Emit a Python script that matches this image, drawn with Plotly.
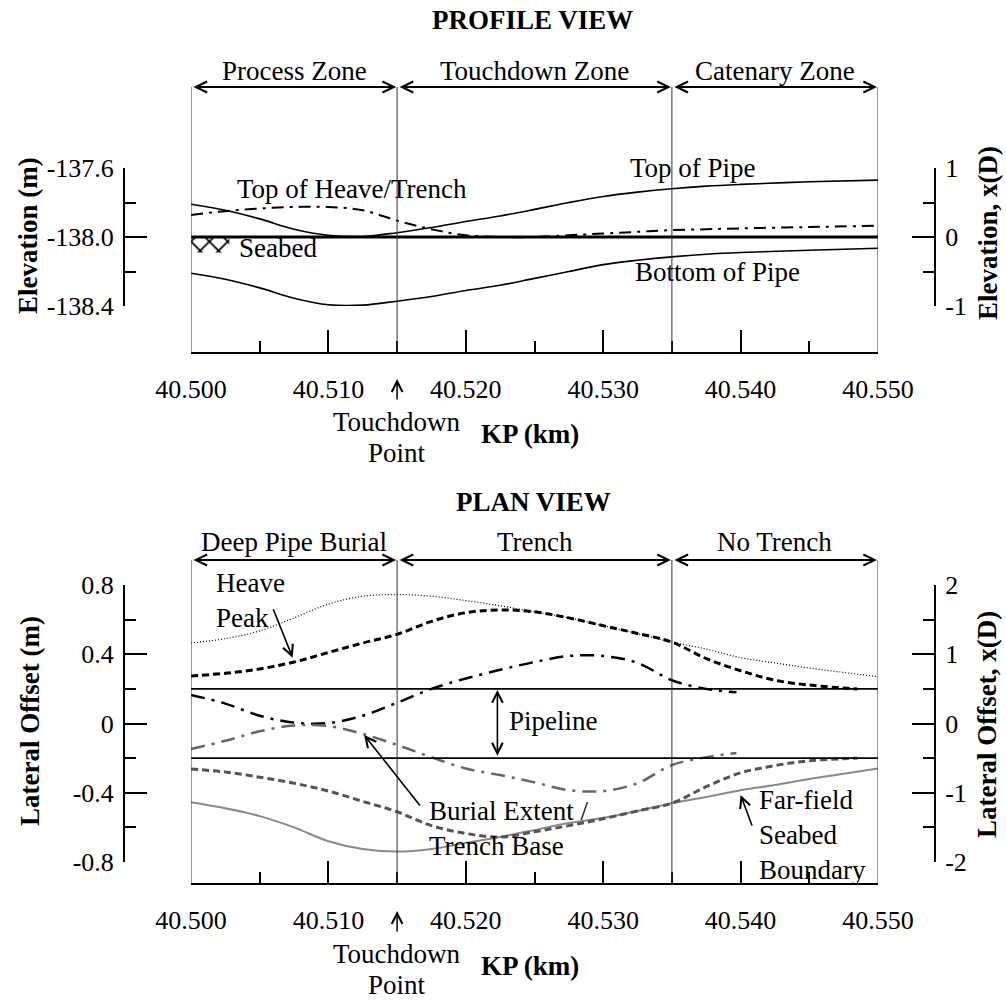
import plotly.graph_objects as go

# ---------------------------------------------------------------- data
FONT = "Liberation Serif"
W, H = 1006, 1003

kp_ticks = [40.500, 40.510, 40.520, 40.530, 40.540, 40.550]
kp_labels = ["40.500", "40.510", "40.520", "40.530", "40.540", "40.550"]
kp_minor = [40.505, 40.515, 40.525, 40.535, 40.545]

# profile view (elevation, m)
kp_profile = [40.500, 40.5025, 40.505, 40.5075, 40.510, 40.5125, 40.515, 40.5175,
              40.520, 40.5225, 40.525, 40.5275, 40.530, 40.5325, 40.535, 40.5375,
              40.540, 40.545, 40.550]
top_of_pipe = [-137.81, -137.845, -137.895, -137.955, -137.99, -137.997, -137.975,
               -137.945, -137.91, -137.878, -137.84, -137.80, -137.765, -137.74,
               -137.72, -137.705, -137.695, -137.68, -137.67]
bottom_of_pipe = [-138.21, -138.245, -138.295, -138.355, -138.393, -138.395, -138.372,
                  -138.345, -138.31, -138.28, -138.24, -138.20, -138.16, -138.135,
                  -138.115, -138.10, -138.09, -138.077, -138.065]
top_of_heave = [-137.872, -137.85, -137.835, -137.826, -137.826, -137.845, -137.905,
                -137.955, -137.99, -138.0, -138.0, -137.99, -137.98, -137.97,
                -137.96, -137.955, -137.95, -137.942, -137.935]
seabed_kp = [40.500, 40.550]
seabed_elev = [-138.0, -138.0]
hatch_kp = [40.500, 40.5028, 40.5028, 40.500]
hatch_elev = [-138.0, -138.0, -138.09, -138.09]

elev_ticks = [-138.4, -138.0, -137.6]
elev_labels = ["-138.4", "-138.0", "-137.6"]
elev_minor = [-138.2, -137.8]
elev_d_ticks = [-1, 0, 1]
elev_d_labels = ["-1", "0", "1"]
elev_d_minor = [-0.5, 0.5]

profile_zones = [(40.500, 40.515, "Process Zone"),
                 (40.515, 40.535, "Touchdown Zone"),
                 (40.535, 40.550, "Catenary Zone")]

# plan view (lateral offset, m)
kp_plan = [40.500, 40.5025, 40.505, 40.5075, 40.510, 40.5125, 40.515, 40.5175,
           40.520, 40.5225, 40.525, 40.5275, 40.530, 40.5325, 40.535, 40.5375,
           40.540, 40.5425, 40.545, 40.5475, 40.550]
heave_outer = [0.465, 0.49, 0.535, 0.61, 0.69, 0.735, 0.745, 0.735, 0.71, 0.68, 0.645,
               0.61, 0.565, 0.52, 0.47, 0.43, 0.38, 0.35, 0.32, 0.295, 0.27]
far_field = [-0.455, -0.49, -0.535, -0.60, -0.68, -0.725, -0.74, -0.725, -0.69, -0.655,
             -0.615, -0.575, -0.545, -0.505, -0.46, -0.425, -0.385, -0.355, -0.32,
             -0.29, -0.26]

kp_peak = [40.500, 40.5025, 40.505, 40.5075, 40.510, 40.5125, 40.515, 40.5175, 40.520,
           40.5225, 40.525, 40.5275, 40.530, 40.5325, 40.535, 40.5375, 40.540, 40.5425,
           40.545, 40.5475, 40.5485]
heave_peak = [0.275, 0.29, 0.315, 0.355, 0.41, 0.465, 0.515, 0.59, 0.64, 0.656, 0.645,
              0.61, 0.565, 0.52, 0.47, 0.375, 0.305, 0.25, 0.222, 0.205, 0.20]
trench_edge = [-0.263, -0.28, -0.31, -0.345, -0.39, -0.45, -0.51, -0.59, -0.635, -0.656,
               -0.625, -0.59, -0.55, -0.505, -0.46, -0.365, -0.285, -0.243, -0.215,
               -0.203, -0.20]

kp_burial = [40.500, 40.5025, 40.505, 40.5075, 40.510, 40.5125, 40.515, 40.5175, 40.520,
             40.5225, 40.525, 40.5275, 40.530, 40.5325, 40.535, 40.5375, 40.5397]
burial_upper = [0.165, 0.115, 0.045, 0.005, 0.003, 0.045, 0.12, 0.20, 0.26, 0.31, 0.355,
                0.39, 0.39, 0.35, 0.25, 0.20, 0.18]
burial_lower = [-0.147, -0.10, -0.045, -0.012, -0.015, -0.06, -0.124, -0.195, -0.26,
                -0.298, -0.34, -0.385, -0.39, -0.345, -0.24, -0.195, -0.17]

pipe_kp = [40.500, 40.550]
pipe_upper = [0.2, 0.2]
pipe_lower = [-0.2, -0.2]

lat_ticks = [-0.8, -0.4, 0, 0.4, 0.8]
lat_labels = ["-0.8", "-0.4", "0", "0.4", "0.8"]
lat_minor = [-0.6, -0.2, 0.2, 0.6]
lat_d_ticks = [-2, -1, 0, 1, 2]
lat_d_labels = ["-2", "-1", "0", "1", "2"]
lat_d_minor = [-1.5, -0.5, 0.5, 1.5]

plan_zones = [(40.500, 40.515, "Deep Pipe Burial"),
              (40.515, 40.535, "Trench"),
              (40.535, 40.550, "No Trench")]

zone_bounds = [40.500, 40.515, 40.535, 40.550]
touchdown_kp = 40.515


# ---------------------------------------------------------------- helpers
def fx(p):
    return p / W


def fy(p):
    return 1 - p / H


def kp_axis(pos):
    return dict(domain=[fx(191), fx(878)], range=[40.5, 40.55], anchor="free",
                position=fy(pos), showline=True, linecolor="black", linewidth=2,
                ticks="inside", ticklen=22, tickwidth=2, tickcolor="black",
                tickvals=kp_ticks, ticktext=kp_labels, ticklabelstandoff=13,
                minor=dict(ticks="inside", ticklen=11, tickwidth=2, tickcolor="black",
                           tickvals=kp_minor),
                showgrid=False, zeroline=False, automargin=False,
                tickfont=dict(family=FONT, size=26, color="black"))


def value_axis(dom, rng, tv, tt, mv, side, pos, overlay=None):
    ax = dict(range=rng, anchor="free", position=fx(pos), side=side,
              showline=True, linecolor="black", linewidth=2,
              ticks="inside", ticklen=22, tickwidth=2, tickcolor="black",
              tickvals=tv, ticktext=tt, ticklabelstandoff=4,
              minor=dict(ticks="inside", ticklen=11, tickwidth=2, tickcolor="black",
                         tickvals=mv),
              showgrid=False, zeroline=False, automargin=False,
              tickfont=dict(family=FONT, size=26, color="black"))
    if overlay:
        ax["overlaying"] = overlay
    else:
        ax["domain"] = [fy(dom[1]), fy(dom[0])]
    return ax


fig = go.Figure()


def line(x, y, xa, ya, color="black", width=1.5, dash="solid", spline=True):
    fig.add_trace(go.Scatter(
        x=x, y=y, xaxis=xa, yaxis=ya, mode="lines", showlegend=False,
        hoverinfo="skip",
        line=dict(color=color, width=width, dash=dash,
                  shape="spline" if spline else "linear", smoothing=1.0)))


# ---------------------------------------------------------------- profile view
fig.add_trace(go.Scatter(
    x=hatch_kp, y=hatch_elev, xaxis="x", yaxis="y", mode="none", fill="toself",
    fillcolor="rgba(0,0,0,0)", showlegend=False, hoverinfo="skip",
    fillpattern=dict(shape="x", size=13, solidity=0.25, fgcolor="black",
                     fgopacity=1, bgcolor="white")))
line(seabed_kp, seabed_elev, "x", "y", width=3, spline=False)
line(kp_profile, top_of_pipe, "x", "y", width=1.6)
line(kp_profile, bottom_of_pipe, "x", "y", width=1.6)
line(kp_profile, top_of_heave, "x", "y", width=2, dash="12px,6px,3px,6px")
fig.add_trace(go.Scatter(x=[], y=[], xaxis="x", yaxis="y2", showlegend=False))

# ---------------------------------------------------------------- plan view
line(kp_plan, heave_outer, "x2", "y3", width=1.2, dash="1px,2px")
line(kp_plan, far_field, "x2", "y3", color="#8a8a8a", width=2)
line(kp_peak, heave_peak, "x2", "y3", width=3, dash="7px,4px")
line(kp_peak, trench_edge, "x2", "y3", color="#555555", width=3, dash="7px,4px")
line(kp_burial, burial_upper, "x2", "y3", width=2.5, dash="14px,7px,3px,7px")
line(kp_burial, burial_lower, "x2", "y3", color="#666666", width=2.5,
     dash="14px,7px,3px,7px")
line(pipe_kp, pipe_upper, "x2", "y3", width=1.6, spline=False)
line(pipe_kp, pipe_lower, "x2", "y3", width=1.6, spline=False)
fig.add_trace(go.Scatter(x=[], y=[], xaxis="x2", yaxis="y4", showlegend=False))

# ---------------------------------------------------------------- zone boundaries
shapes = []
for kp in zone_bounds:
    shapes.append(dict(type="line", xref="x", yref="paper", x0=kp, x1=kp,
                       y0=fy(353), y1=fy(87), line=dict(color="#333333", width=1)))
    shapes.append(dict(type="line", xref="x2", yref="paper", x0=kp, x1=kp,
                       y0=fy(884), y1=fy(560), line=dict(color="#333333", width=1)))

annotations = []
TS = 27


def text(t, x, y, size=TS, xanchor="center", align="center", angle=0, xref="paper"):
    annotations.append(dict(text=t, x=x, y=y, xref=xref, yref="paper",
                            showarrow=False, xanchor=xanchor, yanchor="middle",
                            align=align, textangle=angle,
                            font=dict(family=FONT, size=size, color="black")))


def zone_row(zones, xref, y_arrow, y_text):
    for a, b, label in zones:
        annotations.append(dict(
            text="", x=b, y=fy(y_arrow), xref=xref, yref="paper",
            ax=a, ay=0, axref=xref, ayref="pixel", showarrow=True,
            arrowhead=5, startarrowhead=5, arrowside="end+start",
            arrowwidth=2, arrowsize=1.1, arrowcolor="black",
            standoff=1, startstandoff=1))
        text(label, (a + b) / 2, fy(y_text), xref=xref)


zone_row(profile_zones, "x", 87, 71)
zone_row(plan_zones, "x2", 560, 542)

# titles
text("<b>PROFILE VIEW</b>", fx(532), fy(20))
text("<b>PLAN VIEW</b>", fx(533), fy(502))

# axis titles
text("<b>Elevation (m)</b>", fx(28), fy(236), angle=-90)
text("<b>Elevation, x(D)</b>", fx(988), fy(233), angle=-90)
text("<b>Lateral Offset (m)</b>", fx(30), fy(721), angle=-90)
text("<b>Lateral Offset, x(D)</b>", fx(987), fy(725), angle=-90)
text("<b>KP (km)</b>", fx(530), fy(434))
text("<b>KP (km)</b>", fx(530), fy(966))

# touchdown point markers
for xref, base in (("x", 390), ("x2", 922)):
    annotations.append(dict(
        text="", x=touchdown_kp, y=fy(base - 11), xref=xref, yref="paper",
        ax=0, ay=22, showarrow=True, arrowhead=5, arrowwidth=1.5, arrowsize=1.4,
        arrowcolor="black", standoff=0))
    text("Touchdown", touchdown_kp, fy(base + 32), xref=xref)
    text("Point", touchdown_kp, fy(base + 63), xref=xref)

# profile labels
text("Top of Heave/Trench", fx(352), fy(189))
text("Seabed", fx(237), fy(248), xanchor="left")
text("Top of Pipe", fx(693), fy(168))
text("Bottom of Pipe", fx(717), fy(272))

# plan labels
text("Heave<br>Peak", fx(214), fy(600), xanchor="left", align="left")
text("Burial Extent /<br>Trench Base", fx(427), fy(828), xanchor="left", align="left")
text("Far-field<br>Seabed<br>Boundary", fx(757), fy(835), xanchor="left", align="left")
text("Pipeline", fx(507), fy(721), xanchor="left")


def pointer(x, y, ax, ay, xref="x2", yref="y3"):
    annotations.append(dict(
        text="", x=x, y=y, xref=xref, yref=yref, ax=ax, ay=ay,
        showarrow=True, arrowhead=5, arrowwidth=1.6, arrowsize=1.3,
        arrowcolor="black", standoff=0))


pointer(40.5074, 0.38, -20, -50)
pointer(40.5126, -0.066, 57, 72)
pointer(40.5400, -0.413, 12, 32)
annotations.append(dict(
    text="", x=40.5223, y=0.2, xref="x2", yref="y3", ax=40.5223, ay=-0.2,
    axref="x2", ayref="y3", showarrow=True, arrowhead=5, startarrowhead=5,
    arrowside="end+start", arrowwidth=1.6, arrowsize=1.3, arrowcolor="black",
    standoff=1, startstandoff=1))

fig.update_layout(
    width=W, height=H, autosize=False,
    margin=dict(l=0, r=0, t=0, b=0, pad=0, autoexpand=False),
    paper_bgcolor="white", plot_bgcolor="white",
    showlegend=False,
    font=dict(family=FONT, size=26, color="black"),
    xaxis=kp_axis(353),
    xaxis2=kp_axis(884),
    yaxis=value_axis((168, 306), [-138.4, -137.6], elev_ticks, elev_labels, elev_minor,
                     "left", 124),
    yaxis2=value_axis(None, [-1, 1], elev_d_ticks, elev_d_labels, elev_d_minor,
                      "right", 935, overlay="y"),
    yaxis3=value_axis((585, 862), [-0.8, 0.8], lat_ticks, lat_labels, lat_minor,
                      "left", 124),
    yaxis4=value_axis(None, [-2, 2], lat_d_ticks, lat_d_labels, lat_d_minor,
                      "right", 935, overlay="y3"),
    shapes=shapes,
    annotations=annotations,
)

fig.write_html("out.html")
